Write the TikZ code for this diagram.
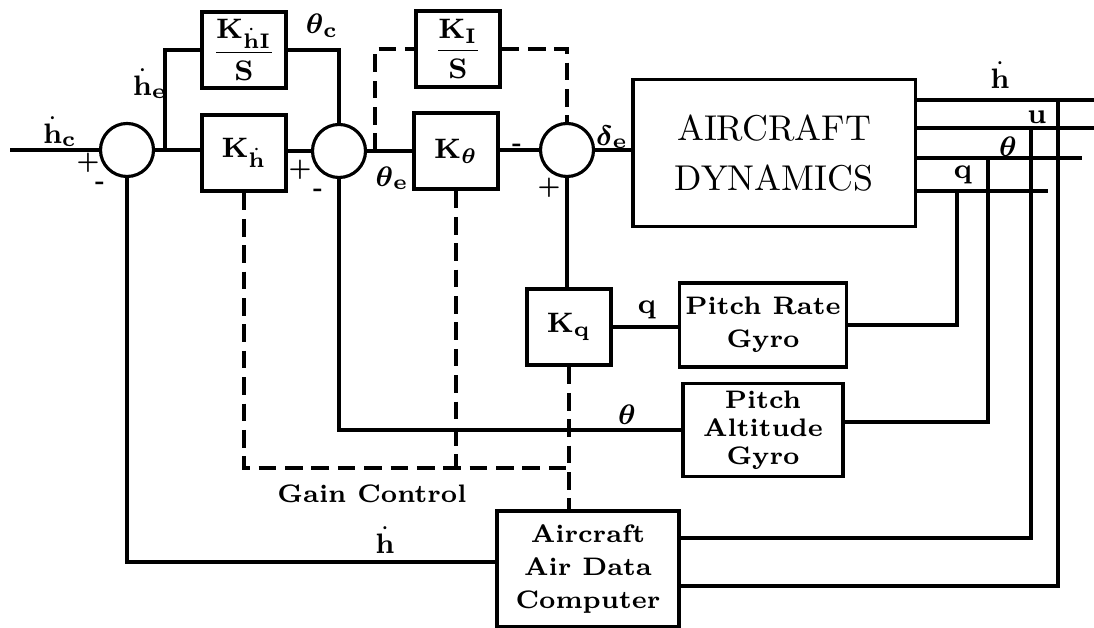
\documentclass[tikz,border=0pt]{standalone}
\usepackage{amsmath}
\usepackage{tikz}
\usetikzlibrary{calc}

\begin{document}
\begin{tikzpicture}[x=0.01cm,y=-0.01cm,
  every node/.style={font=\fontsize{7.2}{9.4}\selectfont\bfseries},
  blk/.style={draw,line width=0.9pt,inner sep=1pt,align=center},
  gain/.style={blk,minimum width=0.84cm,minimum height=0.76cm,font=\fontsize{8.5}{10}\selectfont},
  sum/.style={draw,circle,line width=0.9pt,minimum size=0.53cm,inner sep=0pt},
  sig/.style={line width=0.9pt},
  gc/.style={line width=0.9pt,dash pattern=on 5pt off 2.5pt},
  lab/.style={inner sep=1pt,font=\fontsize{8}{9}\selectfont},
  sgn/.style={inner sep=0pt,font=\fontsize{6.5}{7}\selectfont\bfseries}
]
  \useasboundingbox (0,0) rectangle (1094,628);
  \node[sum] (s1) at (127,150) {};
  \node[sum] (s2) at (339,151) {};
  \node[sum] (s3) at (567,150) {};
  \node[gain] (khi) at (244,50) {$\dfrac{\mathbf{K}_{\dot{\mathbf{h}}\mathbf{I}}}{\mathbf{S}}$};
  \node[gain] (kh) at (244,153) {$\mathbf{K}_{\dot{\mathbf{h}}}$};
  \node[gain] (ki) at (458,49) {$\dfrac{\mathbf{K}_{\mathbf{I}}}{\mathbf{S}}$};
  \node[gain] (kth) at (456,151) {$\mathbf{K}_{\boldsymbol{\theta}}$};
  \node[blk,minimum width=2.82cm,minimum height=1.47cm,font=\fontsize{10.2}{14}\selectfont] (adyn) at (774,153) {AIRCRAFT\\DYNAMICS};
  \node[gain] (kq) at (569,327) {$\mathbf{K}_{\mathbf{q}}$};
  \node[blk,minimum width=1.67cm,minimum height=0.84cm] (prg) at (763,325) {Pitch Rate\\Gyro};
  \node[blk,minimum width=1.6cm,minimum height=0.93cm,font=\fontsize{7.2}{8}\selectfont\bfseries] (pag) at (763,430) {Pitch\\Altitude\\Gyro};
  \node[blk,minimum width=1.82cm,minimum height=1.16cm] (adc) at (588,569) {Aircraft\\Air Data\\Computer};

  \coordinate (in) at (10,150);
  \coordinate (br) at (165,150);
  \coordinate (tap) at (375,151);
  \draw[sig] (in) -- (s1.west);
  \draw[sig] (s1.east) -- (s1.east -| kh.west);
  \draw[sig] (br) |- (khi.west);
  \draw[sig] (khi.east) -| (s2.north);
  \draw[sig] (kh.east |- s2.west) -- (s2.west);
  \draw[sig] (s2.east) -- (s2.east -| kth.west);
  \draw[gc] (tap) |- (ki.west);
  \draw[gc] (ki.east) -| (s3.north);
  \draw[sig] (kth.east |- s3.west) -- (s3.west);
  \draw[sig] (s3.east) -- (s3.east -| adyn.west);

  \coordinate (oh) at (1094,100);
  \coordinate (ou) at (1094,128);
  \coordinate (ot) at (1082,158);
  \coordinate (oq) at (1048,191);
  \draw[sig] (adyn.east |- oh) -- (oh);
  \draw[sig] (adyn.east |- ou) -- (ou);
  \draw[sig] (adyn.east |- ot) -- (ot);
  \draw[sig] (adyn.east |- oq) -- (oq);
  \coordinate (vq) at (957,191);
  \coordinate (vt) at (988,158);
  \coordinate (vu) at (1031,128);
  \coordinate (vh) at (1058,100);
  \draw[sig] (vq) |- (prg.east);
  \draw[sig] (vt) |- ($(pag.east)+(0,-8)$);
  \draw[sig] (vu) |- ($(adc.east)+(0,-31)$);
  \draw[sig] (vh) |- ($(adc.east)+(0,17)$);

  \draw[sig] (kq.east) -- (kq.east -| prg.west);
  \draw[sig] (s3.south) -- (s3.south |- kq.north);
  \draw[sig] (s2.south) |- (pag.west);
  \draw[sig] (s1.south) |- ($(adc.west)+(0,-7)$);

  \coordinate (gcc) at (569,468);
  \draw[gc] (kh.south) |- (gcc);
  \draw[gc] (kth.south) -- (kth.south |- gcc);
  \draw[gc] (kq.south) -- (kq.south |- adc.north);

  \node[lab] (lhc) at (60,132) {$\dot{\mathbf h}_{\mathbf c}$};
  \node[lab] (lhe) at (150,84) {$\dot{\mathbf h}_{\mathbf e}$};
  \node[lab] (ltc) at (322,26) {$\boldsymbol\theta_{\mathbf c}$};
  \node[lab] (lte) at (392,178) {$\boldsymbol\theta_{\mathbf e}$};
  \node[lab] (lde) at (612,137) {$\boldsymbol\delta_{\mathbf e}$};
  \node[lab] (lho) at (1000,75) {$\dot{\mathbf h}$};
  \node[lab] (lu) at (1037,117) {$\mathbf u$};
  \node[lab] (lt) at (1008,147) {$\boldsymbol\theta$};
  \node[lab] (lq) at (963,175) {$\mathbf q$};
  \node[lab] (lqr) at (647,310) {$\mathbf q$};
  \node[lab] (ltp) at (627,415) {$\boldsymbol\theta$};
  \node[lab] (lhf) at (385,540) {$\dot{\mathbf h}$};
  \node[lab,font=\fontsize{7.2}{9}\selectfont\bfseries] (lgc) at (372,494) {Gain Control};

  \node[sgn] (p1) at (88,163) {+};
  \node[sgn] (m1) at (100,185) {-};
  \node[sgn] (p2) at (300,170) {+};
  \node[sgn] (m2) at (318,192) {-};
  \node[sgn] (m3) at (517,147) {-};
  \node[sgn] (p3) at (549,188) {+};
\end{tikzpicture}
\end{document}
